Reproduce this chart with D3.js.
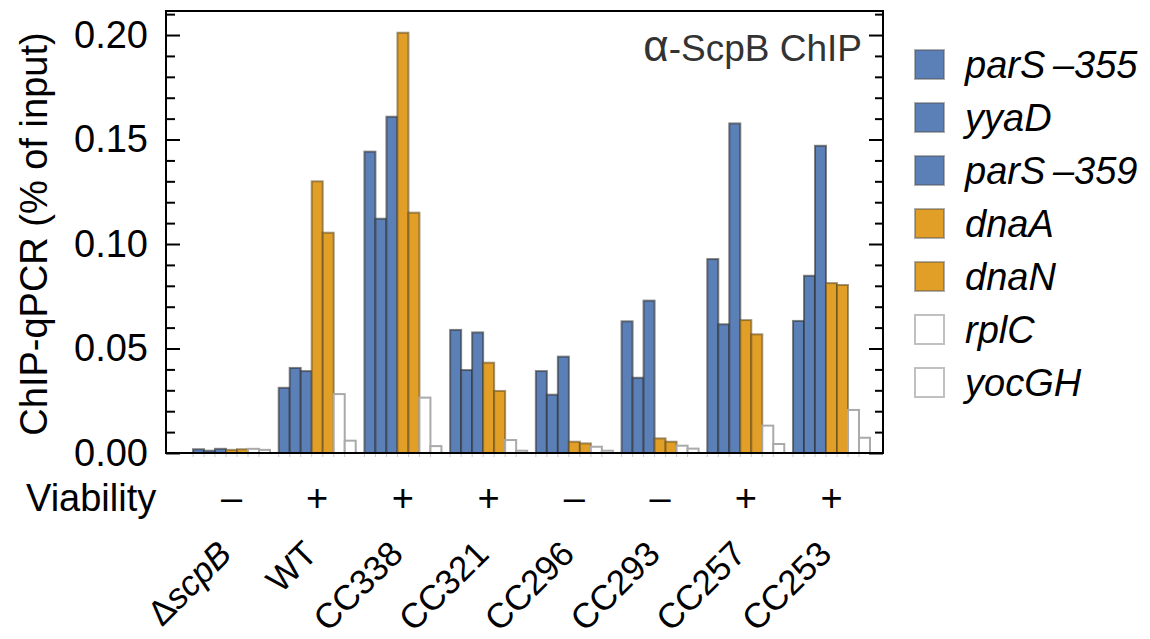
<!DOCTYPE html>
<html>
<head>
<meta charset="utf-8">
<script src="https://cdn.jsdelivr.net/npm/d3@7"></script>
<style>
  body { margin: 0; background: #fff; }
  text { font-family: "Liberation Sans", Arial, sans-serif; }
</style>
</head>
<body>
<div id="chart"></div>
<script>
// strains along the x axis and their viability
var strains = ['dscpB', 'WT', 'CC338', 'CC321', 'CC296', 'CC293', 'CC257', 'CC253']
var viability = ['–', '+', '+', '+', '–', '–', '+', '+']

// loci (one bar each per strain)
var loci = ['parS–355', 'yyaD', 'parS–359', 'dnaA', 'dnaN', 'rplC', 'yocGH']
var parS355 = [0.0018, 0.0312, 0.1442, 0.0589, 0.0392, 0.0630, 0.0928, 0.0632]
var yyaD    = [0.0011, 0.0407, 0.1121, 0.0397, 0.0279, 0.0360, 0.0616, 0.0848]
var parS359 = [0.0020, 0.0392, 0.1609, 0.0577, 0.0461, 0.0729, 0.1577, 0.1470]
var dnaA    = [0.0015, 0.1300, 0.2011, 0.0432, 0.0054, 0.0070, 0.0636, 0.0813]
var dnaN    = [0.0018, 0.1054, 0.1150, 0.0297, 0.0046, 0.0054, 0.0568, 0.0804]
var rplC    = [0.0020, 0.0282, 0.0265, 0.0062, 0.0030, 0.0035, 0.0131, 0.0206]
var yocGH   = [0.0015, 0.0059, 0.0033, 0.0011, 0.0011, 0.0021, 0.0043, 0.0073]

var yTicks = [0, 0.05, 0.10, 0.15, 0.20]

var W = 1150, H = 639
var mLeft = 166, mRight = 883, mTop = 11, mBottom = 453

var svg = d3.select("#chart").append("svg")
    .attr("width", W)
    .attr("height", H)

// build rows: one per strain
var series = [parS355, yyaD, parS359, dnaA, dnaN, rplC, yocGH]
var data = strains.map(function(s, i) {
    return {strain: s, values: loci.map(function(l, j) { return {key: l, value: series[j][i]} })}
})

var color = d3.scaleOrdinal()
    .domain(loci)
    .range(['#5b7fb7', '#5b7fb7', '#5b7fb7', '#e19f27', '#e19f27', '#ffffff', '#ffffff'])
var stroke = d3.scaleOrdinal()
    .domain(loci)
    .range(['rgba(50,50,50,0.6)', 'rgba(50,50,50,0.6)', 'rgba(50,50,50,0.6)',
            'rgba(90,70,30,0.55)', 'rgba(90,70,30,0.55)', '#aaaaaa', '#aaaaaa'])

// scales
var x0 = d3.scaleBand()
    .domain(strains)
    .range([193, 870])
    .paddingInner(0.1015)
    .paddingOuter(0)

var x1 = d3.scaleBand()
    .domain(loci)
    .range([0, x0.bandwidth()])

var y = d3.scaleLinear()
    .domain([0, 0.2115])
    .range([mBottom, mTop])

// bars
var groups = svg.selectAll("g.grp")
    .data(data)
    .enter()
    .append("g")
    .attr("class", "grp")
    .attr("transform", function(d) { return "translate(" + x0(d.strain) + ",0)" })

groups.selectAll("rect")
    .data(function(d) { return d.values })
    .enter()
    .append("rect")
    .attr("x", function(d) { return x1(d.key) })
    .attr("y", function(d) { return y(d.value) })
    .attr("width", x1.bandwidth())
    .attr("height", function(d) { return mBottom - y(d.value) })
    .style("fill", function(d) { return color(d.key) })
    .style("stroke", function(d) { return stroke(d.key) })
    .style("stroke-width", 2)

// small gray ticks under bar edges
groups.selectAll("line.bt")
    .data(function(d) { return d.values })
    .enter()
    .append("line")
    .attr("class", "bt")
    .attr("x1", function(d) { return x1(d.key) })
    .attr("x2", function(d) { return x1(d.key) })
    .attr("y1", mBottom)
    .attr("y2", mBottom + 4)
    .style("stroke", "#ccc")
    .style("stroke-width", 1)

// frame
svg.append("rect")
    .attr("x", mLeft)
    .attr("y", mTop)
    .attr("width", mRight - mLeft)
    .attr("height", mBottom - mTop)
    .style("fill", "none")
    .style("stroke", "#000")
    .style("stroke-width", 2)

// Y axis left (inward ticks)
var minor = d3.range(0, 0.2101, 0.01).filter(function(v) { return Math.abs(v * 20 - Math.round(v * 20)) > 1e-6 })

var yAxis = svg.append("g")
    .attr("transform", "translate(" + mLeft + ",0)")
    .call(d3.axisLeft(y).tickValues(yTicks).tickSize(-14).tickPadding(18)
        .tickFormat(d3.format(".2f")))
yAxis.select(".domain").remove()
yAxis.selectAll("line").style("stroke-width", 2)
yAxis.selectAll("text")
    .style("font-size", "38px")
    .style("font-family", "'Liberation Sans', Arial, sans-serif")
    .attr("fill", "#000")

var yMinor = svg.append("g")
    .attr("transform", "translate(" + mLeft + ",0)")
    .call(d3.axisLeft(y).tickValues(minor).tickSize(-9).tickFormat(""))
yMinor.select(".domain").remove()
yMinor.selectAll("line").style("stroke-width", 2)

// Y axis right (inward ticks, no labels)
var yRight = svg.append("g")
    .attr("transform", "translate(" + mRight + ",0)")
    .call(d3.axisRight(y).tickValues(yTicks).tickSize(-14).tickFormat(""))
yRight.select(".domain").remove()
yRight.selectAll("line").style("stroke-width", 2)

var yRightMinor = svg.append("g")
    .attr("transform", "translate(" + mRight + ",0)")
    .call(d3.axisRight(y).tickValues(minor).tickSize(-8).tickFormat(""))
yRightMinor.select(".domain").remove()
yRightMinor.selectAll("line").style("stroke-width", 2)

// Y label
svg.append("text")
    .attr("transform", "translate(47," + ((mTop + mBottom) / 2 + 2) + ") rotate(-90)")
    .attr("text-anchor", "middle")
    .style("font-size", "38px")
    .text("ChIP-qPCR (% of input)")

// inner title
var title = svg.append("text")
    .attr("x", 862)
    .attr("y", 61)
    .attr("text-anchor", "end")
    .style("font-size", "37px")
    .style("fill", "#333")
title.append("tspan").style("font-size", "44px").text("α")
title.append("tspan").text("-ScpB ChIP")

// viability row
svg.append("text")
    .attr("x", 26)
    .attr("y", 511)
    .style("font-size", "38px")
    .text("Viability")

svg.selectAll("text.via")
    .data(strains)
    .enter()
    .append("text")
    .attr("class", "via")
    .attr("x", function(d) { return x0(d) + x0.bandwidth() / 2 })
    .attr("y", 511)
    .attr("text-anchor", "middle")
    .style("font-size", "38px")
    .text(function(d, i) { return viability[i] })

// strain labels (rotated)
var xl = svg.selectAll("text.strain")
    .data(strains)
    .enter()
    .append("text")
    .attr("class", "strain")
    .attr("text-anchor", "end")
    .attr("transform", function(d) {
        return "translate(" + (x0(d) + x0.bandwidth() / 2 + 2) + ",556) rotate(-45)"
    })
    .style("font-size", "35px")

xl.each(function(d) {
    var t = d3.select(this)
    if (d === 'dscpB') {
        t.append("tspan").text("Δ")
        t.append("tspan").style("font-style", "italic").text("scpB")
    } else {
        t.text(d)
    }
})

// legend
var size = 29
var lg = svg.selectAll("g.leg")
    .data(loci)
    .enter()
    .append("g")
    .attr("class", "leg")
    .attr("transform", function(d, i) { return "translate(915," + (50 + i * 53) + ")" })

lg.append("rect")
    .attr("width", size)
    .attr("height", size)
    .style("fill", function(d) { return color(d) })
    .style("stroke", function(d) { return d === 'rplC' || d === 'yocGH' ? '#c0c0c0' : 'rgba(80,80,80,0.45)' })
    .style("stroke-width", 2)

lg.append("text")
    .attr("x", 50)
    .attr("y", size / 2)
    .attr("dy", "0.35em")
    .style("font-size", "38px")
    .style("font-style", "italic")
    .text(function(d) { return d.replace('S–', 'S\u2009–') })
</script>
</body>
</html>
